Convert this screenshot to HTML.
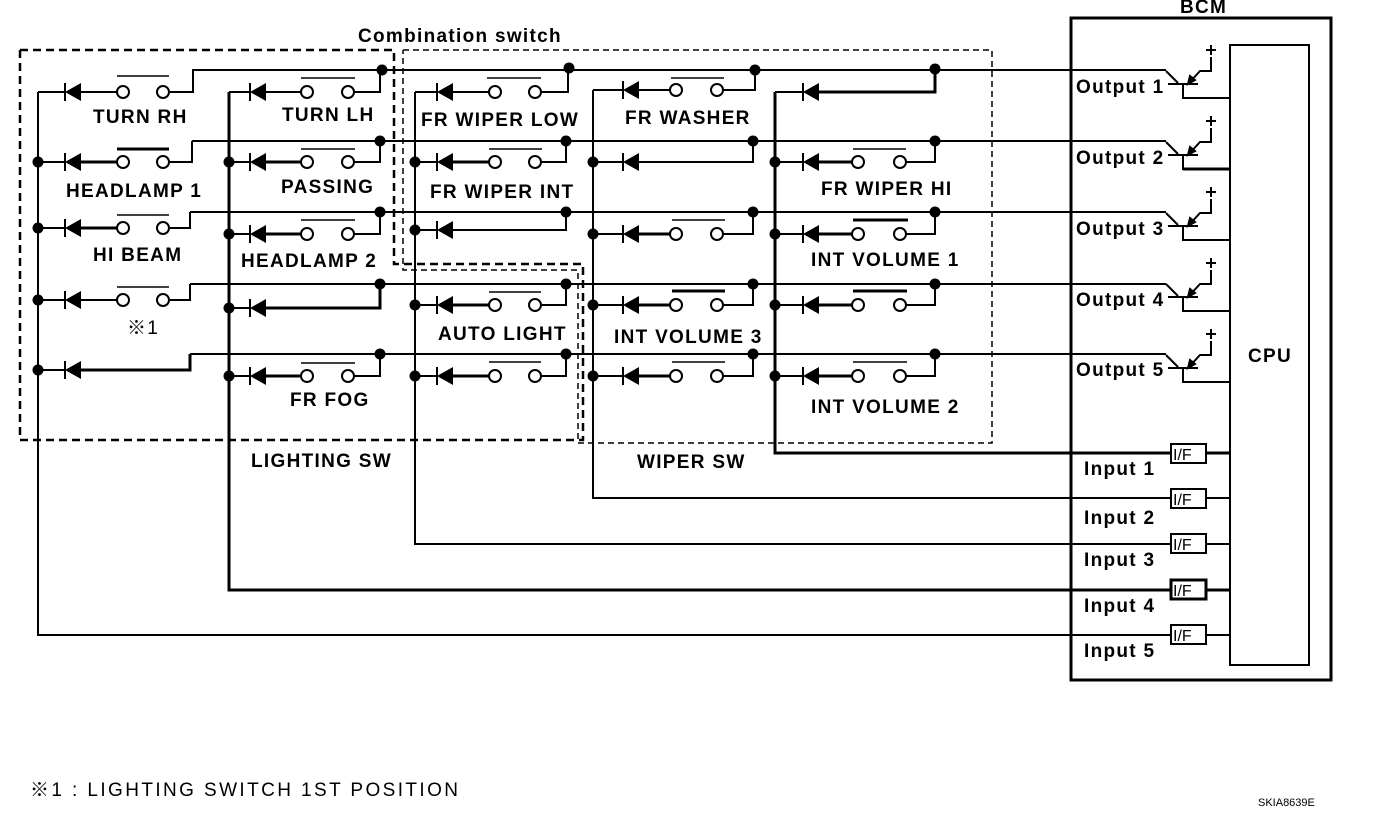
<!DOCTYPE html>
<html><head><meta charset="utf-8"><style>
html,body{margin:0;padding:0;background:#fff;}
svg{display:block;}
text{font-family:"Liberation Sans","Noto Sans CJK JP",sans-serif;fill:#000;}
</style></head><body>
<svg width="1376" height="814" viewBox="0 0 1376 814" xmlns="http://www.w3.org/2000/svg">
<defs>
<g id="d"><polygon points="0,0 16,-9 16,9" fill="#000"/><line x1="0" y1="-9" x2="0" y2="9" stroke="#000" stroke-width="2"/></g>
</defs>
<g stroke="#000" stroke-width="2" fill="none">
<line x1="192" y1="70" x2="1166" y2="70"/>
<line x1="192" y1="141" x2="1166" y2="141"/>
<line x1="190" y1="212" x2="1166" y2="212"/>
<line x1="190" y1="284" x2="1166" y2="284"/>
<line x1="190" y1="354" x2="1166" y2="354"/>
<polyline points="38,92 38,635 1170,635"/>
<polyline points="229,92 229,590 1170,590" stroke-width="3"/>
<polyline points="415,92 415,544 1170,544"/>
<polyline points="593,90 593,498 1170,498"/>
<polyline points="775,92 775,453 1170,453" stroke-width="3"/>
<polyline points="38,92 65,92"/><polyline points="81,92 117,92"/><polyline points="169,92 193,92 193,70"/>
<polyline points="38,162 65,162"/><polyline points="81,162 117,162" stroke-width="3"/><polyline points="169,162 192,162 192,141"/>
<polyline points="38,228 65,228"/><polyline points="81,228 117,228" stroke-width="3"/><polyline points="169,228 190,228 190,212"/>
<polyline points="38,300 65,300"/><polyline points="81,300 117,300"/><polyline points="169,300 190,300 190,284"/>
<polyline points="38,370 65,370"/><polyline points="81,370 190,370 190,354" stroke-width="3"/>
<polyline points="229,92 250,92"/><polyline points="266,92 301,92"/><polyline points="354,92 380,92 380,70"/>
<polyline points="229,162 250,162"/><polyline points="266,162 301,162" stroke-width="3"/><polyline points="354,162 380,162 380,141"/>
<polyline points="229,234 250,234"/><polyline points="266,234 301,234" stroke-width="3"/><polyline points="354,234 380,234 380,212"/>
<polyline points="229,308 250,308"/><polyline points="266,308 380,308 380,284" stroke-width="3"/>
<polyline points="229,376 250,376"/><polyline points="266,376 301,376" stroke-width="3"/><polyline points="354,376 380,376 380,354"/>
<polyline points="415,92 437,92"/><polyline points="453,92 489,92"/><polyline points="541,92 568,92 568,70"/>
<polyline points="415,162 437,162"/><polyline points="453,162 489,162" stroke-width="3"/><polyline points="541,162 566,162 566,141"/>
<polyline points="415,230 437,230"/><polyline points="453,230 566,230 566,212"/>
<polyline points="415,305 437,305"/><polyline points="453,305 489,305" stroke-width="3"/><polyline points="541,305 566,305 566,284"/>
<polyline points="415,376 437,376"/><polyline points="453,376 489,376" stroke-width="3"/><polyline points="541,376 566,376 566,354"/>
<polyline points="593,90 623,90"/><polyline points="639,90 670,90"/><polyline points="723,90 755,90 755,70"/>
<polyline points="593,162 623,162"/><polyline points="639,162 753,162 753,141"/>
<polyline points="593,234 623,234"/><polyline points="639,234 670,234" stroke-width="3"/><polyline points="723,234 753,234 753,212"/>
<polyline points="593,305 623,305"/><polyline points="639,305 670,305" stroke-width="3"/><polyline points="723,305 753,305 753,284"/>
<polyline points="593,376 623,376"/><polyline points="639,376 670,376" stroke-width="3"/><polyline points="723,376 753,376 753,354"/>
<polyline points="775,92 803,92"/><polyline points="819,92 935,92 935,70" stroke-width="3"/>
<polyline points="775,162 803,162"/><polyline points="819,162 852,162" stroke-width="3"/><polyline points="906,162 935,162 935,141"/>
<polyline points="775,234 803,234"/><polyline points="819,234 852,234" stroke-width="3"/><polyline points="906,234 935,234 935,212"/>
<polyline points="775,305 803,305"/><polyline points="819,305 852,305" stroke-width="3"/><polyline points="906,305 935,305 935,284"/>
<polyline points="775,376 803,376"/><polyline points="819,376 852,376" stroke-width="3"/><polyline points="906,376 935,376 935,354"/>
<g fill="#fff">
<circle cx="123" cy="92" r="6"/><circle cx="163" cy="92" r="6"/>
<circle cx="123" cy="162" r="6"/><circle cx="163" cy="162" r="6"/>
<circle cx="123" cy="228" r="6"/><circle cx="163" cy="228" r="6"/>
<circle cx="123" cy="300" r="6"/><circle cx="163" cy="300" r="6"/>
<circle cx="307" cy="92" r="6"/><circle cx="348" cy="92" r="6"/>
<circle cx="307" cy="162" r="6"/><circle cx="348" cy="162" r="6"/>
<circle cx="307" cy="234" r="6"/><circle cx="348" cy="234" r="6"/>
<circle cx="307" cy="376" r="6"/><circle cx="348" cy="376" r="6"/>
<circle cx="495" cy="92" r="6"/><circle cx="535" cy="92" r="6"/>
<circle cx="495" cy="162" r="6"/><circle cx="535" cy="162" r="6"/>
<circle cx="495" cy="305" r="6"/><circle cx="535" cy="305" r="6"/>
<circle cx="495" cy="376" r="6"/><circle cx="535" cy="376" r="6"/>
<circle cx="676" cy="90" r="6"/><circle cx="717" cy="90" r="6"/>
<circle cx="676" cy="234" r="6"/><circle cx="717" cy="234" r="6"/>
<circle cx="676" cy="305" r="6"/><circle cx="717" cy="305" r="6"/>
<circle cx="676" cy="376" r="6"/><circle cx="717" cy="376" r="6"/>
<circle cx="858" cy="162" r="6"/><circle cx="900" cy="162" r="6"/>
<circle cx="858" cy="234" r="6"/><circle cx="900" cy="234" r="6"/>
<circle cx="858" cy="305" r="6"/><circle cx="900" cy="305" r="6"/>
<circle cx="858" cy="376" r="6"/><circle cx="900" cy="376" r="6"/>
</g>
<line x1="117" y1="76" x2="169" y2="76" stroke-width="1.5"/>
<line x1="117" y1="149" x2="169" y2="149" stroke-width="3"/>
<line x1="117" y1="215" x2="169" y2="215" stroke-width="1.5"/>
<line x1="117" y1="287" x2="169" y2="287" stroke-width="1.5"/>
<line x1="301" y1="78" x2="355" y2="78" stroke-width="1.5"/>
<line x1="301" y1="149" x2="355" y2="149" stroke-width="1.5"/>
<line x1="301" y1="220" x2="355" y2="220" stroke-width="1.5"/>
<line x1="301" y1="363" x2="355" y2="363" stroke-width="1.5"/>
<line x1="487" y1="78" x2="541" y2="78" stroke-width="1.5"/>
<line x1="489" y1="149" x2="542" y2="149" stroke-width="1.5"/>
<line x1="489" y1="292" x2="541" y2="292" stroke-width="1.5"/>
<line x1="489" y1="362" x2="541" y2="362" stroke-width="1.5"/>
<line x1="671" y1="78" x2="724" y2="78" stroke-width="1.5"/>
<line x1="672" y1="220" x2="725" y2="220" stroke-width="1.5"/>
<line x1="672" y1="291" x2="725" y2="291" stroke-width="3"/>
<line x1="672" y1="362" x2="725" y2="362" stroke-width="1.5"/>
<line x1="853" y1="149" x2="906" y2="149" stroke-width="1.5"/>
<line x1="853" y1="220" x2="908" y2="220" stroke-width="3"/>
<line x1="853" y1="291" x2="907" y2="291" stroke-width="3"/>
<line x1="853" y1="362" x2="907" y2="362" stroke-width="1.5"/>
<polyline points="20,50 394,50 394,264 583,264 583,440 20,440 20,50" stroke-width="2.5" stroke-dasharray="8,5"/>
<polyline points="403,50 992,50 992,443 578,443 578,270 403,270 403,50" stroke-width="1.5" stroke-dasharray="6,4"/>
<rect x="1071" y="18" width="260" height="662" stroke-width="3"/>
<rect x="1230" y="45" width="79" height="620" stroke-width="2"/>
<rect x="1171" y="444" width="35" height="19"/><line x1="1206" y1="453" x2="1230" y2="453" stroke-width="3"/>
<rect x="1171" y="489" width="35" height="19"/><line x1="1206" y1="498" x2="1230" y2="498"/>
<rect x="1171" y="534" width="35" height="19"/><line x1="1206" y1="544" x2="1230" y2="544"/>
<rect x="1171" y="580" width="35" height="19" stroke-width="3"/><line x1="1206" y1="590" x2="1230" y2="590" stroke-width="3"/>
<rect x="1171" y="625" width="35" height="19"/><line x1="1206" y1="635" x2="1230" y2="635"/>
</g>
<g id="tr" stroke="#000" stroke-width="2" fill="none">
<polyline points="1166,71 1178,83"/>
<line x1="1168" y1="84" x2="1198" y2="84"/>
<polyline points="1188,84 1200,71 1211,71 1211,57"/>
<polyline points="1183,84 1183,98 1230,98"/>
<line x1="1206" y1="50" x2="1216" y2="50"/><line x1="1211" y1="45" x2="1211" y2="55"/>
<polygon points="1188,84 1190,76 1195,80" fill="#000"/>
</g>
<use href="#tr" y="71"/><use href="#tr" y="142"/><use href="#tr" y="213"/><use href="#tr" y="284"/>
<line x1="1183" y1="169" x2="1230" y2="169" stroke="#000" stroke-width="3"/>
<use href="#d" x="65" y="92"/><use href="#d" x="65" y="162"/><use href="#d" x="65" y="228"/><use href="#d" x="65" y="300"/><use href="#d" x="65" y="370"/>
<use href="#d" x="250" y="92"/><use href="#d" x="250" y="162"/><use href="#d" x="250" y="234"/><use href="#d" x="250" y="308"/><use href="#d" x="250" y="376"/>
<use href="#d" x="437" y="92"/><use href="#d" x="437" y="162"/><use href="#d" x="437" y="230"/><use href="#d" x="437" y="305"/><use href="#d" x="437" y="376"/>
<use href="#d" x="623" y="90"/><use href="#d" x="623" y="162"/><use href="#d" x="623" y="234"/><use href="#d" x="623" y="305"/><use href="#d" x="623" y="376"/>
<use href="#d" x="803" y="92"/><use href="#d" x="803" y="162"/><use href="#d" x="803" y="234"/><use href="#d" x="803" y="305"/><use href="#d" x="803" y="376"/>
<g fill="#000">
<circle cx="38" cy="162" r="5.5"/><circle cx="38" cy="228" r="5.5"/><circle cx="38" cy="300" r="5.5"/><circle cx="38" cy="370" r="5.5"/>
<circle cx="229" cy="162" r="5.5"/><circle cx="229" cy="234" r="5.5"/><circle cx="229" cy="308" r="5.5"/><circle cx="229" cy="376" r="5.5"/>
<circle cx="415" cy="162" r="5.5"/><circle cx="415" cy="230" r="5.5"/><circle cx="415" cy="305" r="5.5"/><circle cx="415" cy="376" r="5.5"/>
<circle cx="593" cy="162" r="5.5"/><circle cx="593" cy="234" r="5.5"/><circle cx="593" cy="305" r="5.5"/><circle cx="593" cy="376" r="5.5"/>
<circle cx="775" cy="162" r="5.5"/><circle cx="775" cy="234" r="5.5"/><circle cx="775" cy="305" r="5.5"/><circle cx="775" cy="376" r="5.5"/>
<circle cx="382" cy="70" r="5.5"/><circle cx="380" cy="141" r="5.5"/><circle cx="380" cy="212" r="5.5"/><circle cx="380" cy="284" r="5.5"/><circle cx="380" cy="354" r="5.5"/>
<circle cx="569" cy="68" r="5.5"/><circle cx="566" cy="141" r="5.5"/><circle cx="566" cy="212" r="5.5"/><circle cx="566" cy="284" r="5.5"/><circle cx="566" cy="354" r="5.5"/>
<circle cx="755" cy="70" r="5.5"/><circle cx="753" cy="141" r="5.5"/><circle cx="753" cy="212" r="5.5"/><circle cx="753" cy="284" r="5.5"/><circle cx="753" cy="354" r="5.5"/>
<circle cx="935" cy="69" r="5.5"/><circle cx="935" cy="141" r="5.5"/><circle cx="935" cy="212" r="5.5"/><circle cx="935" cy="284" r="5.5"/><circle cx="935" cy="354" r="5.5"/>
</g>
<g font-size="19" font-weight="bold" letter-spacing="1.3">
<text x="93" y="123">TURN RH</text>
<text x="66" y="197">HEADLAMP 1</text>
<text x="93" y="261">HI BEAM</text>
<text x="127" y="334" font-weight="normal">※1</text>
<text x="282" y="121">TURN LH</text>
<text x="281" y="193">PASSING</text>
<text x="241" y="267">HEADLAMP 2</text>
<text x="290" y="406">FR FOG</text>
<text x="421" y="126">FR WIPER LOW</text>
<text x="430" y="198">FR WIPER INT</text>
<text x="438" y="340">AUTO LIGHT</text>
<text x="625" y="124">FR WASHER</text>
<text x="614" y="343">INT VOLUME 3</text>
<text x="821" y="195">FR WIPER HI</text>
<text x="811" y="266">INT VOLUME 1</text>
<text x="811" y="413">INT VOLUME 2</text>
<text x="251" y="467">LIGHTING SW</text>
<text x="637" y="468">WIPER SW</text>
<text x="358" y="42">Combination switch</text>
<text x="1180" y="13">BCM</text>
<text x="1248" y="362">CPU</text>
<text x="1076" y="93">Output 1</text>
<text x="1076" y="164">Output 2</text>
<text x="1076" y="235">Output 3</text>
<text x="1076" y="306">Output 4</text>
<text x="1076" y="376">Output 5</text>
<text x="1084" y="475">Input 1</text>
<text x="1084" y="524">Input 2</text>
<text x="1084" y="566">Input 3</text>
<text x="1084" y="612">Input 4</text>
<text x="1084" y="657">Input 5</text>
</g>
<g font-size="16">
<text x="1173" y="460">I/F</text><text x="1173" y="505">I/F</text><text x="1173" y="550">I/F</text><text x="1173" y="596">I/F</text><text x="1173" y="641">I/F</text>
</g>
<text x="30" y="796" font-size="19" letter-spacing="2.4">※1 : LIGHTING SWITCH 1ST POSITION</text>
<text x="1258" y="806" font-size="11">SKIA8639E</text>
</svg>
</body></html>
